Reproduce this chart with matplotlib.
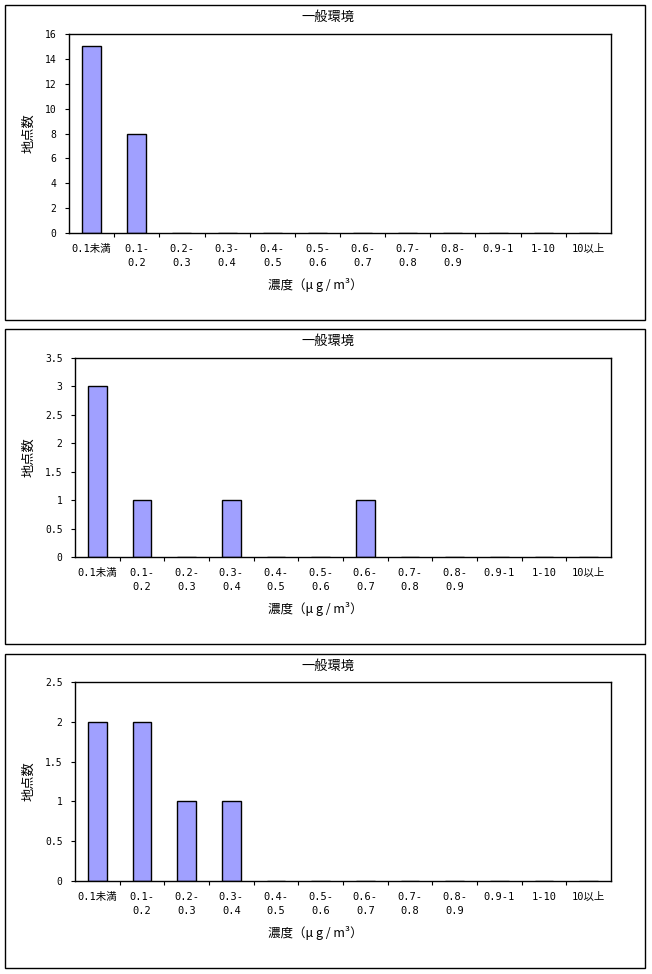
import matplotlib
matplotlib.use('Agg')
import matplotlib.pyplot as plt
from matplotlib.patches import Rectangle

plt.rcParams['font.family'] = ['Noto Sans CJK JP', 'DejaVu Sans']
tick_font = ['DejaVu Sans Mono', 'Noto Sans CJK JP']

### data #####
categories = ['0.1未満', '0.1-\n0.2', '0.2-\n0.3', '0.3-\n0.4', '0.4-\n0.5', '0.5-\n0.6',
              '0.6-\n0.7', '0.7-\n0.8', '0.8-\n0.9', '0.9-1', '1-10', '10以上']
counts_1 = [15, 8, 0, 0, 0, 0, 0, 0, 0, 0, 0, 0]
counts_2 = [3, 1, 0, 1, 0, 0, 1, 0, 0, 0, 0, 0]
counts_3 = [2, 2, 1, 1, 0, 0, 0, 0, 0, 0, 0, 0]
yticks_1 = [0, 2, 4, 6, 8, 10, 12, 14, 16]
yticks_2 = [0, 0.5, 1, 1.5, 2, 2.5, 3, 3.5]
yticks_3 = [0, 0.5, 1, 1.5, 2, 2.5]
title = '一般環境'
ylabel = '地点数'
xlabel = '濃度（μ g / m³）'

W, H = 652, 974
fig = plt.figure(figsize=(W / 100, H / 100), dpi=100)

# (box top, box bottom, axes left, axes top, axes bottom) in pixels
panels = [
    (counts_1, yticks_1, 5, 320, 69, 34, 233),
    (counts_2, yticks_2, 329, 644, 75, 358, 557),
    (counts_3, yticks_3, 654, 968, 75, 682, 881),
]
right = 611

for counts, yt, btop, bbot, left, atop, abot in panels:
    # outer frame of each chart
    fig.patches.append(Rectangle((5 / W, 1 - bbot / H), 640 / W, (bbot - btop) / H,
                                 transform=fig.transFigure, fill=False,
                                 edgecolor='black', linewidth=1))
    aw, ah = right - left, abot - atop
    ax = fig.add_axes([left / W, 1 - abot / H, aw / W, ah / H])
    x = list(range(len(categories)))
    ax.bar(x, counts, width=0.42, color='#a0a0ff', edgecolor='black', linewidth=1)
    ax.set_xlim(-0.5, len(categories) - 0.5)
    ax.set_ylim(0, yt[-1])
    ax.set_yticks(yt)
    ax.set_yticklabels([('%g' % v) for v in yt], fontsize=7, family=tick_font)
    ax.set_xticks([i + 0.5 for i in x[:-1]])
    ax.set_xticklabels([])
    ax.set_xticks(x, minor=True)
    ax.set_xticklabels(categories, minor=True, fontsize=7.5, family=tick_font,
                       linespacing=1.5, va='top')
    ax.tick_params(axis='x', which='minor', length=0, pad=8)
    ax.tick_params(axis='x', which='major', length=3, direction='out')
    ax.tick_params(axis='y', length=3, direction='out', pad=6)
    for s in ax.spines.values():
        s.set_linewidth(1)
    ax.set_ylabel(ylabel, fontsize=9.5)
    ax.yaxis.set_label_coords((35 - left) / aw, 0.5)
    ax.text((328 - left) / aw, 1 + (atop - btop - 12) / ah, title, transform=ax.transAxes,
            ha='center', va='center', fontsize=9.5)
    ax.text((315 - left) / aw, -52 / ah, xlabel, transform=ax.transAxes,
            ha='center', va='center', fontsize=9)

fig.savefig('out.png', dpi=100)
plt.close()
